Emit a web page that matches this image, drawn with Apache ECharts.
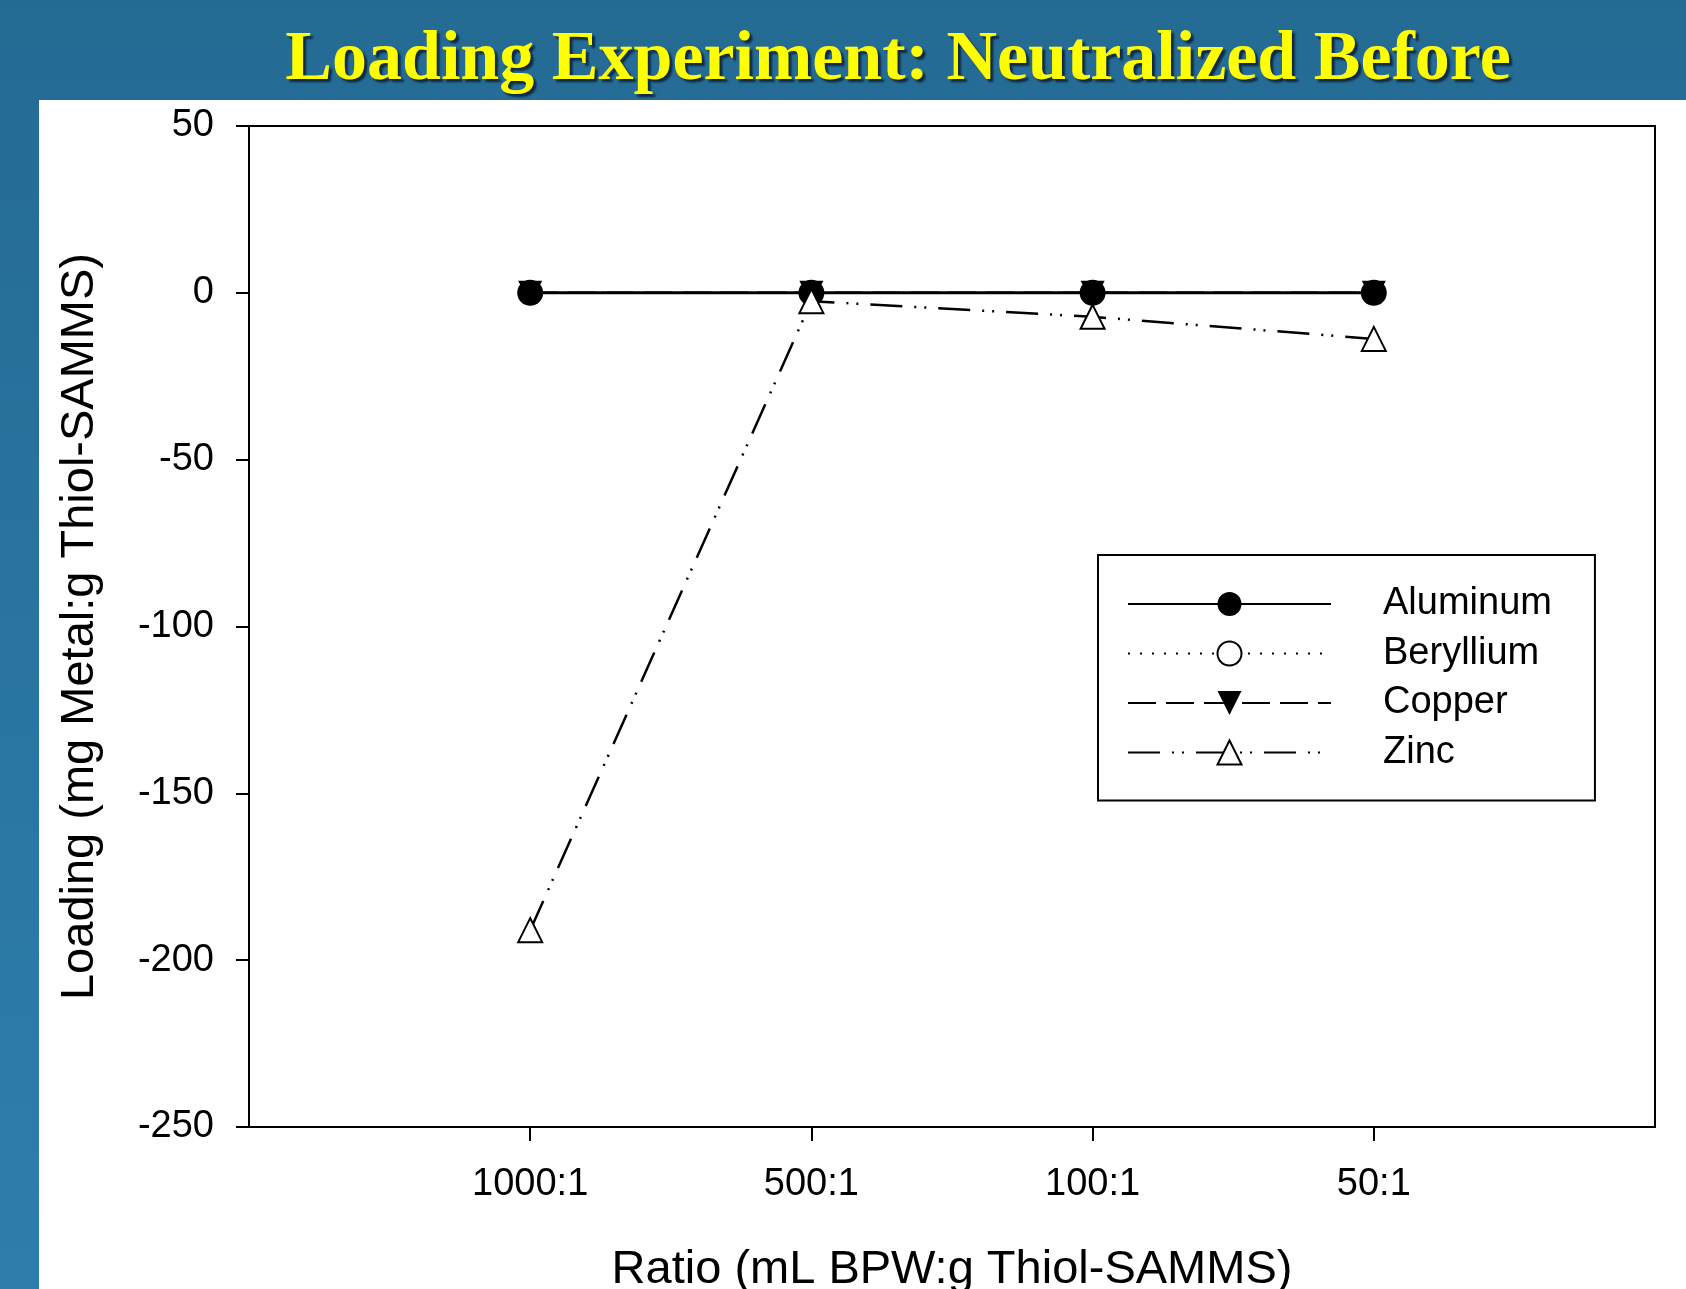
<!DOCTYPE html>
<html>
<head>
<meta charset="utf-8">
<title>Loading Experiment: Neutralized Before</title>
<script src="https://cdn.jsdelivr.net/npm/echarts@6/dist/echarts.min.js"></script>
<style>
  html, body {
    margin: 0;
    padding: 0;
    width: 1686px;
    height: 1289px;
    overflow: hidden;
    background: linear-gradient(to bottom, #246b94, #2e7eac);
  }
  .panel {
    position: absolute;
    left: 39px;
    top: 100px;
    right: 0;
    bottom: 0;
    background: #fff;
  }
  #chart {
    position: absolute;
    left: 0;
    top: 0;
    width: 1686px;
    height: 1289px;
  }
</style>
</head>
<body>
<div class="panel"></div>
<div id="chart"></div>
<script>
const titleText = 'Loading Experiment: Neutralized Before'
const ratios = ['1000:1', '500:1', '100:1', '50:1']
const ratioPos = [1, 2, 3, 4]
const yTicks = { min: -250, max: 50, step: 50 }

const aluminum = [0, 0, 0, 0]
const beryllium = [0, 0, 0, 0]
const copper = [0, 0, 0, 0]
const zinc = [-191, -2.5, -7.2, -13.8]

const sans = '"Liberation Sans", Arial, sans-serif'

function pairs(values) {
  return values.map((v, i) => [ratioPos[i], v])
}

const chart = echarts.init(document.getElementById('chart'), null, { renderer: 'canvas' })

chart.setOption({
  animation: false,
  backgroundColor: 'transparent',
  textStyle: { fontFamily: sans, color: '#000' },
  graphic: [{
    type: 'text',
    x: 898,
    y: 61,
    z: 10,
    style: {
      text: titleText,
      font: 'bold 70px "Liberation Serif", "Times New Roman", serif',
      fill: '#ffff00',
      align: 'center',
      verticalAlign: 'middle',
      textShadowColor: 'rgba(10, 20, 40, 0.75)',
      textShadowOffsetX: 3,
      textShadowOffsetY: 3,
      textShadowBlur: 2,
    },
  }],
  grid: {
    left: 249,
    top: 126,
    right: 31,
    bottom: 162,
    outerBoundsMode: 'none',
    containLabel: false,
    show: true,
    borderColor: '#000',
    borderWidth: 2,
    backgroundColor: 'transparent',
  },
  legend: {
    orient: 'vertical',
    left: 1098,
    top: 555,
    padding: [29, 43, 28, 29],
    borderColor: '#000',
    borderWidth: 2,
    backgroundColor: '#fff',
    itemWidth: 203,
    itemHeight: 30,
    itemGap: 9.5,
    selectedMode: false,
    data: ['Aluminum', 'Beryllium', 'Copper', 'Zinc'],
    textStyle: {
      fontFamily: sans,
      fontSize: 38,
      color: '#000',
      lineHeight: 40,
      padding: [0, 0, 0, 47],
    },
  },
  xAxis: {
    type: 'value',
    min: 0,
    max: 5,
    name: 'Ratio (mL BPW:g Thiol-SAMMS)',
    nameLocation: 'middle',
    nameGap: 120,
    nameTextStyle: { fontFamily: sans, fontSize: 47, color: '#000' },
    axisLine: { onZero: false, lineStyle: { color: '#000', width: 2 } },
    axisTick: {
      show: true,
      inside: false,
      length: 14,
      customValues: ratioPos,
      lineStyle: { color: '#000', width: 2 },
    },
    axisLabel: {
      customValues: ratioPos,
      formatter: v => ratios[ratioPos.indexOf(v)] || '',
      fontFamily: sans,
      fontSize: 38,
      color: '#000',
      margin: 39,
    },
    splitLine: { show: false },
  },
  yAxis: {
    type: 'value',
    min: yTicks.min,
    max: yTicks.max,
    interval: yTicks.step,
    name: 'Loading (mg Metal:g Thiol-SAMMS)',
    nameLocation: 'middle',
    nameGap: 145,
    nameTextStyle: { fontFamily: sans, fontSize: 47, color: '#000' },
    axisLine: { show: true, onZero: false, lineStyle: { color: '#000', width: 2 } },
    axisTick: { show: true, inside: false, length: 13, lineStyle: { color: '#000', width: 2 } },
    axisLabel: { fontFamily: sans, fontSize: 38, color: '#000', margin: 35 },
    splitLine: { show: false },
  },
  series: [
    {
      name: 'Aluminum',
      type: 'line',
      z: 3,
      data: pairs(aluminum),
      symbol: 'circle',
      symbolSize: 24,
      color: '#000',
      lineStyle: { color: '#000', width: 3, type: 'solid' },
      itemStyle: { color: '#000' },
      emphasis: { disabled: true },
    },
    {
      name: 'Beryllium',
      type: 'line',
      z: 2,
      data: pairs(beryllium),
      symbol: 'emptyCircle',
      symbolSize: 24,
      color: '#000',
      lineStyle: { color: '#000', width: 2, type: [2, 10] },
      itemStyle: { color: '#000', borderColor: '#000', borderWidth: 2 },
      emphasis: { disabled: true },
    },
    {
      name: 'Copper',
      type: 'line',
      z: 4,
      data: pairs(copper),
      symbol: 'triangle',
      symbolRotate: 180,
      symbolSize: 24,
      color: '#000',
      lineStyle: { color: '#000', width: 2.5, type: [28, 10] },
      itemStyle: { color: '#000' },
      emphasis: { disabled: true },
    },
    {
      name: 'Zinc',
      type: 'line',
      z: 5,
      data: pairs(zinc),
      symbol: 'emptyTriangle',
      symbolSize: 24,
      color: '#000',
      lineStyle: { color: '#000', width: 2.5, type: [32, 12, 2, 8, 2, 12] },
      itemStyle: { color: '#000', borderColor: '#000', borderWidth: 2.5 },
      emphasis: { disabled: true },
    },
  ],
})
</script>
</body>
</html>
